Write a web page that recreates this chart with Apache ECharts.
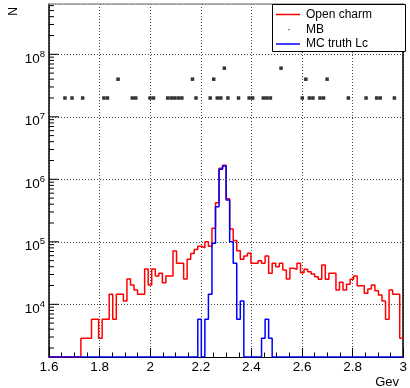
<!DOCTYPE html>
<html><head><meta charset="utf-8">
<script src="https://cdn.jsdelivr.net/npm/echarts@6/dist/echarts.min.js"></script>
<style>html,body{margin:0;padding:0;background:#fff}#c{width:410px;height:388px}</style>
</head><body><div id="c"></div>
<script>
// histogram binning (GeV)
const binLow = 1.6;
const binWidth = 0.014;
const nBins = 100;

// "Open charm" bin contents (100 bins, 1.6 - 3.0)
const openCharm = [
  0,0,0,0,0,0,0,0,0,2860,
  2860,2860,5750,5750,2860,5750,5750,14450,5750,14450,
  14450,11300,25400,20400,16900,14450,14450,36700,20400,36700,
  28400,31300,22200,28400,28400,71300,45300,45300,25400,52500,
  65000,75000,85000,80000,100000,85000,165000,420000,1500000,1680000,
  490000,160000,105000,72000,52500,59300,65500,45300,45300,49900,
  45300,59300,31300,45300,39900,45300,35400,25400,37700,36300,
  45300,32100,36300,33300,30500,27700,25100,42600,25100,31300,
  31300,16900,22500,16900,20900,25100,28400,19900,19900,15000,
  17600,20400,16500,14100,11300,5750,16900,14450,14450,2860
];

// "MC truth Lc" bin contents
const mcTruthLc = [
  0,0,0,0,0,0,0,0,0,0,
  0,0,0,0,0,0,0,0,0,0,
  0,0,0,0,0,0,0,0,0,0,
  0,0,0,0,0,0,0,0,0,0,
  0,0,5750,0,5750,14450,95000,363000,1450000,1630000,
  467000,100000,45300,5750,11300,0,0,0,0,0,
  2860,5750,2860,0,0,0,0,0,0,0,
  0,0,0,0,0,0,0,0,0,0,
  0,0,0,0,0,0,0,0,0,0,
  0,0,0,0,0,0,0,0,0,0
];

// "MB" points: bin index and content
const mbBins   = [4,6,9,15,16,19,23,24,28,29,33,34,35,36,37,40,41,45,46,47,48,49,50,53,56,57,60,61,62,65,71,72,73,74,76,77,78,84,89,92,93,97];
const mbValues = [2e7,2e7,2e7,2e7,2e7,4e7,2e7,2e7,2e7,2e7,2e7,2e7,2e7,2e7,2e7,4e7,2e7,2e7,4e7,2e7,2e7,6e7,2e7,2e7,2e7,2e7,2e7,2e7,2e7,6e7,2e7,4e7,2e7,2e7,2e7,2e7,4e7,2e7,2e7,2e7,2e7,2e7];

const xMin = 1.6, xMax = 3.0, xStep = 0.2;
const yMin = 1436, yMax = 6.38e8;
const legendNames = ['Open charm', 'MB', 'MC truth Lc'];
const xTitle = 'Gev', yTitle = 'N';

const FONT = 'Liberation Sans, Arial, Helvetica, sans-serif';

function clampLog(v) { return v > 0 ? v : yMin; }
function histSteps(vals) {
  const d = [];
  for (let i = 0; i < vals.length; i++) d.push([binLow + i * binWidth, clampLog(vals[i])]);
  d.push([binLow + vals.length * binWidth, clampLog(vals[vals.length - 1])]);
  return d;
}
const mbData = mbBins.map((b, i) => [binLow + (b + 0.5) * binWidth, mbValues[i]]);

const yTickData = [];
for (let n = 3; n <= 8; n++) for (let k = 1; k <= 9; k++) {
  const v = k * Math.pow(10, n);
  if (v >= yMin && v <= yMax) yTickData.push([xMin, v, k === 1 ? 1 : 0]);
}

const chart = echarts.init(document.getElementById('c'), null, {renderer: 'canvas'});
chart.setOption({
  animation: false,
  backgroundColor: '#fff',
  grid: {left: 49, right: 4, top: 4, bottom: 31, show: false},
  xAxis: [{
    type: 'value', min: xMin, max: xMax, interval: xStep,
    axisLine: {show: true, onZero: false, lineStyle: {color: '#000', width: 1}},
    axisTick: {show: true, inside: true, length: 9, lineStyle: {color: '#000', width: 1}},
    minorTick: {show: true, splitNumber: 4, length: 4.5, lineStyle: {color: '#000', width: 1}},
    axisLabel: {color: '#000', fontSize: 13.5, fontFamily: FONT, margin: 3, showMinLabel: true, showMaxLabel: true},
    splitLine: {show: true, lineStyle: {color: '#444', type: [1, 2], width: 1}}
  }, {
    type: 'value', position: 'top', min: xMin, max: xMax, interval: xStep,
    axisLine: {show: true, onZero: false, lineStyle: {color: '#999', width: 1.5}},
    axisTick: {show: false}, axisLabel: {show: false}, splitLine: {show: false}
  }],
  yAxis: [{
    type: 'log', logBase: 10, min: yMin, max: yMax,
    axisLine: {show: true, onZero: false, lineStyle: {color: '#000', width: 1.5}},
    axisTick: {show: false},
    axisLabel: {
      margin: 4, color: '#000', fontFamily: FONT,
      formatter: function (v) {
        const e = Math.log10(v), r = Math.round(e);
        if (Math.abs(e - r) > 1e-6) return '';
        return '{a|10}{b|' + r + '}';
      },
      rich: {
        a: {fontSize: 13.5, fontFamily: FONT, color: '#000', lineHeight: 14, verticalAlign: 'bottom'},
        b: {fontSize: 9.5, fontFamily: FONT, color: '#000', lineHeight: 23, verticalAlign: 'middle'}
      }
    },
    splitLine: {show: true, lineStyle: {color: '#444', type: [1, 2], width: 1}}
  }, {
    type: 'log', logBase: 10, min: yMin, max: yMax, position: 'right',
    axisLine: {show: true, onZero: false, lineStyle: {color: '#000', width: 1.5}},
    axisTick: {show: false}, axisLabel: {show: false}, splitLine: {show: false}
  }],
  series: [{
    name: legendNames[0], type: 'line', step: 'end', data: histSteps(openCharm),
    symbol: 'none', lineStyle: {color: '#ff0000', width: 1.5}, itemStyle: {color: '#ff0000'}, z: 3
  }, {
    name: legendNames[2], type: 'line', step: 'end', data: histSteps(mcTruthLc),
    symbol: 'none', lineStyle: {color: '#0000ff', width: 1.5}, itemStyle: {color: '#0000ff'}, z: 4
  }, {
    name: legendNames[1], type: 'scatter', data: mbData,
    symbol: 'rect', symbolSize: 3.5, itemStyle: {color: '#000'}, z: 5
  }, {
    type: 'custom', data: yTickData, silent: true, z: 6,
    renderItem: function (params, api) {
      const p = api.coord([api.value(0), api.value(1)]);
      const len = api.value(2) ? 10 : 5;
      return {type: 'line', shape: {x1: p[0], y1: p[1], x2: p[0] + len, y2: p[1]},
              style: {stroke: '#000', lineWidth: 1}};
    }
  }],
  graphic: {
    elements: [
      {type: 'text', x: 14, y: 7, rotation: Math.PI / 2, z: 100,
       style: {text: yTitle, font: '12px ' + FONT, fill: '#000', align: 'right', verticalAlign: 'middle'}},
      {type: 'text', x: 399, y: 382, z: 100,
       style: {text: xTitle, font: '13px ' + FONT, fill: '#000', align: 'right', verticalAlign: 'middle'}},
      {type: 'rect', z: 100, shape: {x: 272.5, y: 4.5, width: 133, height: 47},
       style: {fill: '#fff', stroke: '#000', lineWidth: 1}},
      {type: 'line', z: 101, shape: {x1: 276, y1: 14.5, x2: 300, y2: 14.5}, style: {stroke: '#ff0000', lineWidth: 1.5}},
      {type: 'rect', z: 101, shape: {x: 288.5, y: 29, width: 1.2, height: 1.2}, style: {fill: '#333'}},
      {type: 'line', z: 101, shape: {x1: 276, y1: 44, x2: 300, y2: 44}, style: {stroke: '#0000ff', lineWidth: 1.5}},
      {type: 'text', z: 101, x: 306, y: 14.5, style: {text: legendNames[0], font: '12px ' + FONT, fill: '#000', verticalAlign: 'middle'}},
      {type: 'text', z: 101, x: 306, y: 30, style: {text: legendNames[1], font: '12px ' + FONT, fill: '#000', verticalAlign: 'middle'}},
      {type: 'text', z: 101, x: 306, y: 44, style: {text: legendNames[2], font: '12px ' + FONT, fill: '#000', verticalAlign: 'middle'}}
    ]
  }
});
</script></body></html>
